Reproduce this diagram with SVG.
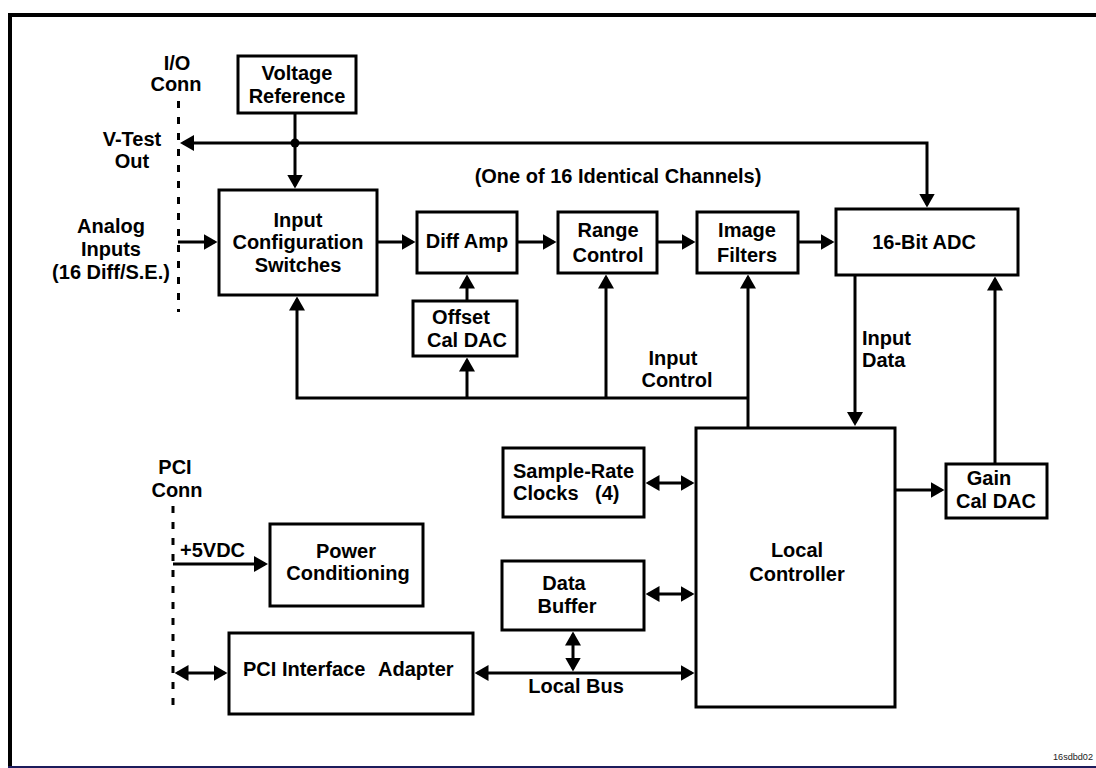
<svg xmlns="http://www.w3.org/2000/svg" width="1096" height="768" viewBox="0 0 1096 768">
<style>
.box{fill:#fff;stroke:#000;stroke-width:3}
.ln{fill:none;stroke:#000;stroke-width:3}
.ar{marker-end:url(#ah)}
.bi{marker-start:url(#ah);marker-end:url(#ah)}
.dot{fill:none;stroke:#000;stroke-width:3;stroke-dasharray:7 9}
text{font-family:"Liberation Sans",Arial,Helvetica,sans-serif;font-weight:bold;font-size:20px;fill:#000}
.c{text-anchor:middle}
.tag{font-weight:normal;font-size:9px;fill:#222}
</style>
<defs>
<marker id="ah" viewBox="0 0 14 16" markerWidth="14" markerHeight="16" refX="11" refY="8" markerUnits="userSpaceOnUse" orient="auto-start-reverse">
<path d="M0,0 L14,8 L0,16 Z" fill="#000"/>
</marker>
</defs>
<rect width="1096" height="768" fill="#fff"/>
<g id="frame">
<line x1="8" y1="15" x2="1096" y2="15" stroke="#000" stroke-width="4"/>
<line x1="10" y1="13" x2="10" y2="768" stroke="#000" stroke-width="4"/>
<line x1="8" y1="767" x2="1096" y2="767" stroke="#1c1c5c" stroke-width="2"/>
</g>
<g id="connectors">
<line class="dot" x1="178.5" y1="101" x2="178.5" y2="312"/>
<line class="dot" x1="173" y1="506" x2="173" y2="714"/>
<path class="ln ar" d="M295,113 V185.5"/>
<path class="ln ar" d="M295,143 H183"/>
<path class="ln ar" d="M295,143 H927 V204.5"/>
<circle cx="295" cy="143" r="4.5" fill="#000"/>
<path class="ln ar" d="M178,242 H214.5"/>
<path class="ln ar" d="M377,242 H412.5"/>
<path class="ln ar" d="M517,242 H553.5"/>
<path class="ln ar" d="M657,242 H692.5"/>
<path class="ln ar" d="M798,242 H831.5"/>
<path class="ln ar" d="M748,428 V277.5"/>
<path class="ln ar" d="M748,398 H297 V299.5"/>
<path class="ln ar" d="M467,398 V360.5"/>
<path class="ln ar" d="M467,301 V277.5"/>
<path class="ln ar" d="M606,398 V277.5"/>
<path class="ln ar" d="M855,275 V423"/>
<path class="ln ar" d="M995,464 V279.5"/>
<path class="ln ar" d="M895,490 H941.5"/>
<path class="ln bi" d="M648.5,483 H691.5"/>
<path class="ln bi" d="M648.5,594 H691.5"/>
<path class="ln bi" d="M477.5,673 H691.5"/>
<path class="ln bi" d="M573,634.5 V668.5"/>
<path class="ln bi" d="M177.5,673 H224.5"/>
<path class="ln ar" d="M173,564 H265"/>
</g>
<g id="io-conn">
<text class="c" x="177" y="70">I/O</text>
<text class="c" x="176" y="91">Conn</text>
</g>
<g id="v-test-label">
<text class="c" x="132" y="146">V-Test</text>
<text class="c" x="132" y="168">Out</text>
</g>
<g id="analog-label">
<text class="c" x="111" y="233">Analog</text>
<text class="c" x="111" y="256">Inputs</text>
<text class="c" x="111" y="279">(16 Diff/S.E.)</text>
</g>
<g id="voltage-reference">
<rect class="box" x="238" y="56" width="118" height="57"/>
<text class="c" x="297" y="80">Voltage</text>
<text class="c" x="297" y="103">Reference</text>
</g>
<g id="input-config">
<rect class="box" x="219" y="190" width="158" height="105"/>
<text class="c" x="298" y="227">Input</text>
<text class="c" x="298" y="249">Configuration</text>
<text class="c" x="298" y="272">Switches</text>
</g>
<g id="channels-label">
<text class="c" x="618" y="183">(One of 16 Identical Channels)</text>
</g>
<g id="diff-amp">
<rect class="box" x="417" y="212" width="100" height="61"/>
<text class="c" x="467" y="248">Diff Amp</text>
</g>
<g id="range-control">
<rect class="box" x="558" y="212" width="99" height="61"/>
<text class="c" x="608" y="237">Range</text>
<text class="c" x="608" y="262">Control</text>
</g>
<g id="image-filters">
<rect class="box" x="697" y="212" width="101" height="61"/>
<text class="c" x="747" y="237">Image</text>
<text class="c" x="747" y="262">Filters</text>
</g>
<g id="offset-cal-dac">
<rect class="box" x="413" y="301" width="104" height="55"/>
<text class="c" x="461" y="324">Offset</text>
<text class="c" x="467" y="347">Cal DAC</text>
</g>
<g id="input-control-label">
<text class="c" x="673" y="365">Input</text>
<text class="c" x="677" y="387">Control</text>
</g>
<g id="adc">
<rect class="box" x="836" y="209" width="182" height="66"/>
<text class="c" x="924" y="249">16-Bit ADC</text>
</g>
<g id="input-data-label">
<text x="862" y="345">Input</text>
<text x="862" y="367">Data</text>
</g>
<g id="gain-cal-dac">
<rect class="box" x="946" y="464" width="101" height="54"/>
<text class="c" x="989" y="485">Gain</text>
<text class="c" x="996" y="508">Cal DAC</text>
</g>
<g id="local-controller">
<rect class="box" x="696" y="428" width="199" height="279"/>
<text class="c" x="797" y="557">Local</text>
<text class="c" x="797" y="581">Controller</text>
</g>
<g id="sample-rate-clocks">
<rect class="box" x="503" y="448" width="141" height="69"/>
<text x="513" y="478">Sample-Rate</text>
<text x="513" y="500">Clocks<tspan x="595">(4)</tspan></text>
</g>
<g id="data-buffer">
<rect class="box" x="502" y="561" width="142" height="69"/>
<text class="c" x="564" y="590">Data</text>
<text class="c" x="567" y="613">Buffer</text>
</g>
<g id="local-bus-label">
<text class="c" x="576" y="693">Local Bus</text>
</g>
<g id="pci-conn">
<text class="c" x="175" y="474">PCI</text>
<text class="c" x="177" y="497">Conn</text>
</g>
<g id="vdc-label">
<text x="180" y="557">+5VDC</text>
</g>
<g id="power-conditioning">
<rect class="box" x="270" y="524" width="153" height="82"/>
<text class="c" x="346" y="558">Power</text>
<text class="c" x="348" y="580">Conditioning</text>
</g>
<g id="pci-interface-adapter">
<rect class="box" x="229" y="633" width="244" height="81"/>
<text x="243" y="676">PCI Interface<tspan x="378">Adapter</tspan></text>
</g>
<g id="figure-tag">
<text class="tag" x="1053" y="760" textLength="40" lengthAdjust="spacingAndGlyphs">16sdbd02</text>
</g>
</svg>
